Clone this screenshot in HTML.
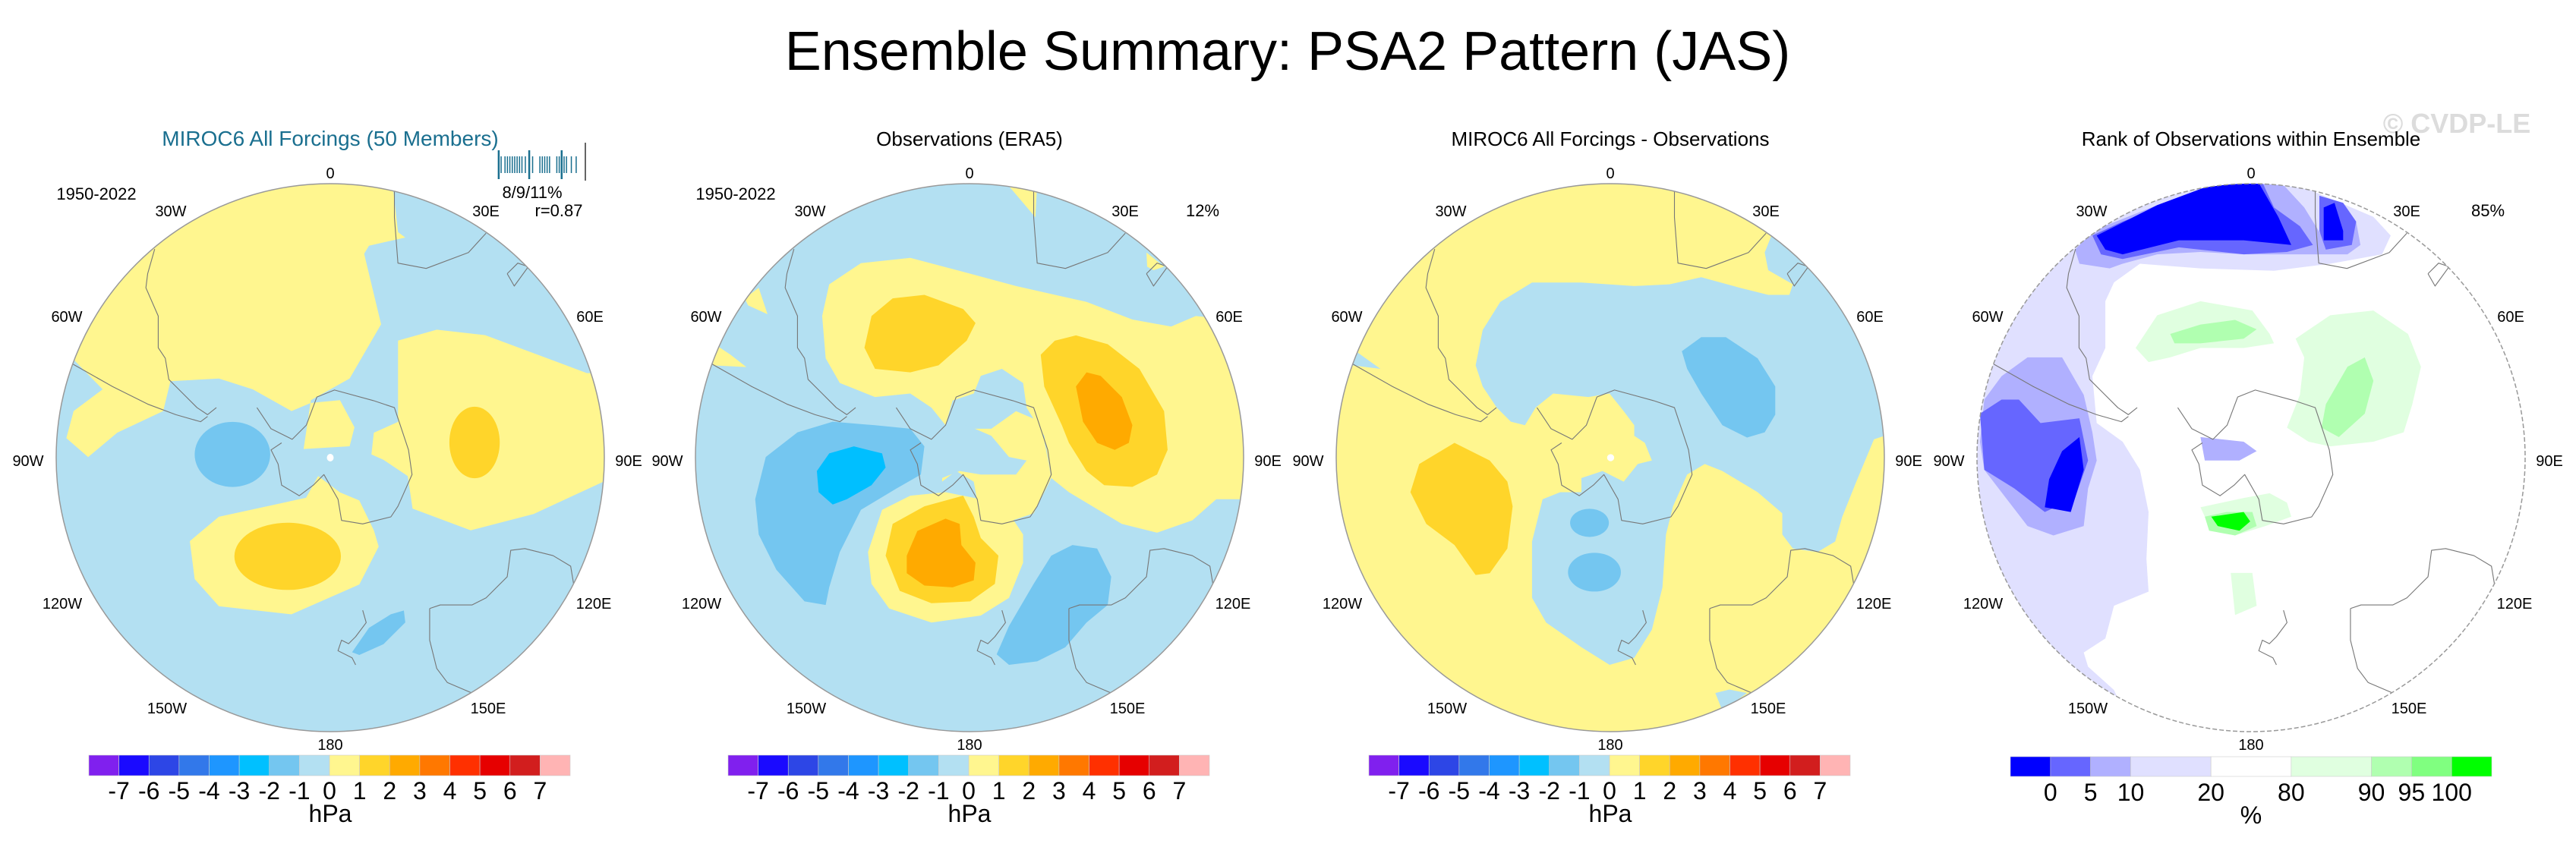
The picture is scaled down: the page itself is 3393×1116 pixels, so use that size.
<!DOCTYPE html>
<html><head><meta charset="utf-8">
<style>
html,body{margin:0;padding:0;background:#fff;}
svg{display:block;font-family:"Liberation Sans",Arial,sans-serif;}
</style></head>
<body>
<svg id="fig" width="3393" height="1116" viewBox="0 0 3393 1116" xmlns="http://www.w3.org/2000/svg">
<defs>
  <clipPath id="circ"><circle cx="0" cy="0" r="361"/></clipPath>
  <g id="coast" fill="none" stroke="#777" stroke-width="2.4" stroke-linejoin="round">
    <polyline points="370,190 350,260 345,300 380,380 380,470 400,500 410,560 450,600 490,640 520,660 545,640"/>
    <polyline points="135,515 250,580 350,630 430,660 500,680 520,665"/>
    <polyline points="1050,20 1050,100 1060,230 1140,245 1260,200 1310,145"/>
    <polyline points="1370,260 1400,230 1430,240 1390,295 1370,260"/>
    <polyline points="660,640 700,700 760,730 800,690 830,610 880,590 990,620 1050,640 1070,700 1090,760 1100,830 1060,920 1040,950 960,970 900,960 890,900 850,830 820,860 780,890 730,860 720,800 700,760 730,740"/>
    <polyline points="1150,1210 1180,1200 1270,1200 1310,1180 1370,1120 1380,1045 1420,1040 1500,1060 1550,1090 1560,1150"/>
    <polyline points="1150,1210 1150,1300 1170,1380 1200,1420 1270,1450"/>
    <polyline points="960,1215 970,1250 940,1290 920,1310 900,1300 890,1330 930,1350 940,1370"/>
  </g>
</defs>

<text x="1696" y="92" font-size="72" text-anchor="middle" fill="#000">Ensemble Summary: PSA2 Pattern (JAS)</text>
<text x="3236" y="175" font-size="36" font-weight="bold" text-anchor="middle" fill="#dcdcdc">© CVDP-LE</text>

<!-- Panel 1 -->
<g id="p1" transform="translate(435,603)">
  <g clip-path="url(#circ)">
    <circle r="361" fill="#b3e0f2"/>
    <g transform="scale(0.6378,0.7143) translate(-680,-846)">
      <path fill="#fff68f" d="M810,200 L810,352 L820,430 L835,440 L760,455 L750,470 L785,600 L720,700 L680,720 L640,740 L625,830 L720,825 L730,790 L700,740 L640,745 L600,760 L520,720 L450,700 L350,705 L335,760 L240,800 L180,845 L135,810 L150,760 L210,720 L150,665 L60,600 L60,200 Z"/>
      <path fill="#fff68f" d="M820,630 L900,610 L1000,620 L1150,670 L1210,690 L1300,690 L1300,880 L1245,890 L1100,950 L970,980 L850,940 L840,880 L790,850 L765,840 L770,800 L820,780 Z"/>
      <ellipse cx="978" cy="818" rx="52" ry="66" fill="#ffd52a"/>
      <path fill="#fff68f" d="M390,1000 L450,955 L630,920 L655,880 L700,910 L740,925 L770,980 L780,1010 L740,1080 L600,1135 L450,1120 L400,1070 Z"/>
      <ellipse cx="592" cy="1028" rx="110" ry="62" fill="#ffd52a"/>
      <ellipse cx="478" cy="840" rx="78" ry="60" fill="#74c6f0"/>
      <path fill="#74c6f0" d="M725,1205 L760,1160 L805,1135 L832,1128 L835,1150 L790,1190 L740,1210 Z"/>
      <circle cx="680" cy="846" r="7" fill="#fff"/>
    </g>
    <use href="#coast" transform="scale(0.4643) translate(-868,-782)"/>
  </g>
  <circle r="361" fill="none" stroke="#999" stroke-width="1.5"/>
</g>

<!-- Panel 2 -->
<g id="p2" transform="translate(1277,603)">
  <g clip-path="url(#circ)">
    <circle r="361" fill="#b3e0f2"/>
    <g transform="scale(0.4643) translate(-868,-782)">
      <path fill="#fff68f" d="M450,380 L470,290 L560,230 L700,215 L870,260 L1000,295 L1200,340 L1330,390 L1440,410 L1510,380 L1700,400 L1700,900 L1568,900 L1500,960 L1400,995 L1300,970 L1150,880 L1100,840 L1080,720 L1030,640 L1020,570 L960,530 L900,550 L880,600 L820,620 L800,690 L760,640 L700,600 L600,610 L500,570 L460,500 Z"/>
      <path fill="#fff68f" d="M930,700 L1000,650 L1070,680 L1100,840 L1050,940 L960,970 L900,960 L880,850 L830,820 L790,850 L800,700 Z"/>
      <path fill="#b3e0f2" d="M730,700 L860,690 L930,720 L980,780 L1030,790 L1000,830 L900,830 L840,820 L790,840 L740,820 Z"/>
      <path fill="#fff68f" d="M970,0 L1060,0 L1055,100 Z M1370,200 L1420,240 L1390,250 L1372,240 Z M230,330 L270,300 L295,375 L240,350 Z M145,460 L190,490 L235,525 L140,520 Z"/>
      <path fill="#fff68f" d="M580,1050 L620,930 L700,890 L800,880 L900,900 L980,940 L1020,1000 L1020,1080 L980,1180 L900,1230 L760,1250 L640,1210 L590,1140 Z"/>
      <path fill="#ffd52a" d="M630,1060 L650,970 L740,920 L850,890 L880,950 L900,1010 L950,1060 L940,1140 L870,1190 L760,1195 L670,1160 Z"/>
      <path fill="#ffaa00" d="M690,1060 L720,990 L800,955 L840,970 L845,1030 L885,1080 L880,1130 L820,1150 L740,1145 L690,1110 Z"/>
      <path fill="#ffd52a" d="M570,470 L590,380 L650,330 L740,320 L850,360 L885,400 L860,450 L780,520 L700,540 L600,530 Z"/>
      <path fill="#ffd52a" d="M1070,490 L1110,450 L1170,435 L1260,460 L1350,530 L1420,650 L1430,760 L1400,830 L1330,865 L1250,860 L1200,820 L1150,740 L1130,690 L1080,580 Z"/>
      <path fill="#ffaa00" d="M1170,580 L1200,540 L1240,550 L1300,610 L1330,690 L1320,740 L1280,760 L1230,740 L1190,680 Z"/>
      <path fill="#74c6f0" d="M260,900 L290,780 L380,710 L480,680 L600,690 L700,700 L740,750 L730,830 L660,870 L560,930 L500,1050 L470,1150 L460,1200 L400,1190 L320,1100 L270,1000 Z"/>
      <path fill="#00bfff" d="M435,820 L470,770 L540,750 L620,770 L630,810 L590,860 L520,900 L480,915 L440,880 Z"/>
      <path fill="#74c6f0" d="M945,1340 L980,1260 L1050,1140 L1100,1060 L1160,1030 L1230,1040 L1270,1120 L1260,1200 L1200,1250 L1140,1320 L1060,1360 L980,1370 Z"/>
    </g>
    <use href="#coast" transform="scale(0.4643) translate(-868,-782)"/>
  </g>
  <circle r="361" fill="none" stroke="#999" stroke-width="1.5"/>
</g>

<!-- Panel 3 -->
<g id="p3" transform="translate(2121,603)">
  <g clip-path="url(#circ)">
    <circle r="361" fill="#fff68f"/>
    <g transform="scale(0.4643) translate(-782,-782)">
      <path fill="#b3e0f2" d="M400,520 L420,420 L470,340 L560,285 L700,285 L850,295 L950,290 L1040,270 L1150,300 L1230,320 L1290,320 L1300,290 L1230,250 L1220,200 L1240,150 L1300,100 L1700,300 L1700,700 L1560,720 L1530,730 L1480,850 L1440,950 L1420,1020 L1370,1050 L1300,1040 L1270,1000 L1270,940 L1200,880 L1100,820 L1050,800 L1000,830 L960,920 L940,1000 L930,1150 L900,1270 L850,1350 L780,1370 L700,1320 L600,1250 L560,1180 L560,1020 L590,900 L640,880 L700,880 L700,840 L760,820 L820,850 L860,800 L900,790 L880,740 L850,720 L850,690 L820,650 L780,600 L720,610 L620,600 L570,640 L540,690 L500,680 L460,640 L420,580 Z"/>
      <path fill="#b3e0f2" d="M60,480 L130,530 L50,520 Z M1080,1450 L1120,1440 L1170,1450 L1100,1500 Z"/>
      <path fill="#ffd52a" d="M215,880 L240,800 L340,740 L440,790 L490,850 L505,920 L490,1040 L440,1110 L400,1115 L340,1030 L260,970 Z"/>
      <path fill="#74c6f0" d="M985,480 L1040,440 L1110,440 L1200,500 L1250,580 L1250,660 L1220,710 L1170,725 L1100,690 L1040,600 L1000,530 Z"/>
      <ellipse cx="723" cy="967" rx="55" ry="40" fill="#74c6f0"/>
      <ellipse cx="737" cy="1107" rx="75" ry="55" fill="#74c6f0"/>
      <circle cx="783" cy="782" r="10" fill="#fff"/>
    </g>
    <use href="#coast" transform="scale(0.4643) translate(-868,-782)"/>
  </g>
  <circle r="361" fill="none" stroke="#999" stroke-width="1.5"/>
</g>

<!-- Panel 4 -->
<g id="p4" transform="translate(2965,603)">
  <g clip-path="url(#circ)">
    <circle r="361" fill="#fff"/>
    <g transform="scale(0.5695,0.6173) translate(-817,-734)">
      <path fill="#e0e0ff" d="M100,300 L360,320 L420,280 L480,230 L600,180 L760,140 L870,140 L960,165 L1100,220 L1140,260 L1120,300 L1000,320 L870,335 L700,330 L560,320 L500,360 L480,400 L480,500 L450,560 L460,660 L520,700 L560,760 L580,850 L575,950 L580,1020 L500,1050 L480,1120 L430,1150 L440,1180 L500,1230 L515,1260 L515,1400 L100,1400 Z"/>
      <path fill="#b0b0ff" d="M410,290 L450,250 L600,195 L760,140 L880,140 L940,200 L980,260 L1060,230 L1070,280 L1040,300 L900,300 L800,300 L700,295 L600,300 L520,320 L490,330 L420,320 Z"/>
      <path fill="#b0b0ff" d="M200,610 L240,560 L300,520 L380,520 L430,600 L450,680 L460,740 L440,800 L430,880 L360,900 L300,880 L250,820 L200,760 L190,700 Z"/>
      <path fill="#b0b0ff" d="M700,690 L800,700 L830,720 L790,740 L710,740 Z"/>
      <path fill="#6666ff" d="M450,260 L520,230 L620,195 L760,140 L840,140 L870,200 L930,240 L960,280 L900,295 L800,300 L650,285 L520,310 L470,300 Z M975,175 L1030,190 L1060,230 L1050,280 L990,290 L975,250 Z"/>
      <path fill="#6666ff" d="M190,640 L240,610 L280,610 L330,660 L420,650 L440,740 L410,820 L340,850 L270,800 L200,760 Z"/>
      <path fill="#0000ff" d="M460,260 L600,195 L760,140 L830,140 L880,220 L910,280 L800,270 L650,270 L520,300 L480,290 Z M985,200 L1010,190 L1030,250 L1030,270 L985,270 Z M350,780 L380,720 L420,690 L430,760 L400,850 L340,840 Z"/>
      <path fill="#e0ffe0" d="M550,500 L600,430 L700,400 L820,420 L860,470 L870,490 L800,500 L700,500 L630,520 L580,530 Z M920,480 L1000,430 L1100,420 L1180,470 L1210,540 L1190,620 L1170,680 L1100,700 L1000,710 L950,700 L900,670 L930,600 L940,520 Z M700,840 L800,820 L860,810 L900,830 L910,860 L850,880 L780,900 L720,880 Z M770,980 L820,980 L830,1050 L780,1070 Z"/>
      <path fill="#b0ffb0" d="M630,470 L700,450 L780,440 L830,460 L800,480 L700,490 L640,490 Z M1040,540 L1080,520 L1100,570 L1080,640 L1020,690 L980,670 L990,620 Z M710,860 L760,850 L820,850 L830,880 L780,900 L720,890 Z"/>
      <path fill="#00ff00" d="M725,860 L800,850 L815,870 L790,890 L740,880 Z"/>
    </g>
    <use href="#coast" transform="scale(0.4643) translate(-868,-782)"/>
  </g>
  <circle r="361" fill="none" stroke="#999" stroke-width="1.5" stroke-dasharray="6 3"/>
</g>

<g id="labels"></g>
<g id="colorbars"></g>
</svg>

<script>
// ---- Colorbar data (hPa panels) ----
const hpaColors = ["#8020ee","#1a0aff","#2d46e6","#3278ea","#1e96ff","#00c0ff","#74c6f0","#b3e0f2","#fff68f","#ffd52a","#ffaa00","#ff7800","#ff3000","#e60000","#d21e1e","#ffb4b4"];
const hpaTicks = ["-7","-6","-5","-4","-3","-2","-1","0","1","2","3","4","5","6","7"];
// ---- Colorbar data (rank panel) ----
const rankColors = ["#0000ff","#6666ff","#b0b0ff","#e0e0ff","#ffffff","#e0ffe0","#b0ffb0","#80ff80","#00ff00"];
const rankWidths = [1,1,1,2,2,2,1,1,1];
const rankTicks = ["0","5","10","20","80","90","95","100"];
// ---- Panels ----
const panelCenters = [435,1277,2121,2965];
const panelTitles = ["MIROC6 All Forcings (50 Members)","Observations (ERA5)","MIROC6 All Forcings - Observations","Rank of Observations within Ensemble"];
const lonLabels = ["0","30E","60E","90E","120E","150E","180","150W","120W","90W","60W","30W"];
const memberTicks = [1030,1035,1043,1048,1053,1058,1063,1068,1073,1078,1085,1093,1100,1115,1120,1125,1130,1135,1150,1155,1160,1165,1170,1180,1190];
const tallTicks = [1030,1093,1160];

const NS="http://www.w3.org/2000/svg";
const L=document.getElementById('labels');
const CB=document.getElementById('colorbars');
function txt(parent,x,y,s,size,anchor,fill){
  const t=document.createElementNS(NS,'text');
  t.setAttribute('x',x);t.setAttribute('y',y);
  t.setAttribute('font-size',size);t.setAttribute('text-anchor',anchor||'middle');
  t.setAttribute('fill',fill||'#000');t.textContent=s;parent.appendChild(t);return t;
}
// lon label positions relative to center (layout)
const lonPos=[[0,235],[205,285],[342,424],[393,614],[347,802],[208,940],[0,988],[-215,940],[-353,802],[-398,614],[-347,424],[-210,285]];
panelCenters.forEach((cx,pi)=>{
  const tt=txt(L,cx,192,panelTitles[pi],pi===0?28:26,'middle',pi===0?'#1a6f8f':'#000');
  
  
  lonLabels.forEach((s,i)=>{
    const t=txt(L,cx+lonPos[i][0],lonPos[i][1],s,20);
    
    
  });
  if(pi<2){
    const y=txt(L,cx-308,263,"1950-2022",22);
    
    
  }
});
const p2=txt(L,1277+307,285,"12%",22);


const p4=txt(L,2965+312,285,"85%",22);


const s1=txt(L,435+266,261,"8/9/11%",22);


const s2=txt(L,435+301,285,"r=0.87",22);


// member tick widget
memberTicks.forEach(z=>{
  const x=z/1.568;
  const tall=tallTicks.indexOf(z)>=0;
  const ln=document.createElementNS(NS,'line');
  ln.setAttribute('x1',x);ln.setAttribute('x2',x);
  ln.setAttribute('y1',tall?198:206);ln.setAttribute('y2',tall?236:228);
  ln.setAttribute('stroke','#1a6f8f');ln.setAttribute('stroke-width',tall?2.5:1.5);
  
  
  L.appendChild(ln);
});
const ob=document.createElementNS(NS,'line');
ob.setAttribute('x1',771);ob.setAttribute('x2',771);ob.setAttribute('y1',188);ob.setAttribute('y2',238);
ob.setAttribute('stroke','#333');ob.setAttribute('stroke-width',1.5);


L.appendChild(ob);

// hPa colorbars
[0,1,2].forEach(pi=>{
  const cx=panelCenters[pi], x0=cx-318, w=634/hpaColors.length, y0=995, h=27;
  hpaColors.forEach((c,i)=>{
    const r=document.createElementNS(NS,'rect');
    r.setAttribute('x',x0+i*w);r.setAttribute('y',y0);r.setAttribute('width',w);r.setAttribute('height',h);
    r.setAttribute('fill',c);r.setAttribute('stroke','#ccc');r.setAttribute('stroke-width',0.6);
    
    
    CB.appendChild(r);
  });
  hpaTicks.forEach((s,i)=>{
    const t=txt(CB,x0+(i+1)*w,1053,s,32);
    
    
  });
  const u=txt(CB,cx,1083,"hPa",32);
  
  
});
// rank colorbar
(function(){
  const cx=panelCenters[3], x0=cx-317, total=rankWidths.reduce((a,b)=>a+b,0), unit=634/total, y0=997, h=26;
  let x=x0;
  rankColors.forEach((c,i)=>{
    const r=document.createElementNS(NS,'rect');
    r.setAttribute('x',x);r.setAttribute('y',y0);r.setAttribute('width',rankWidths[i]*unit);r.setAttribute('height',h);
    r.setAttribute('fill',c);r.setAttribute('stroke','#ccc');r.setAttribute('stroke-width',0.6);
    
    
    CB.appendChild(r);
    x+=rankWidths[i]*unit;
    if(i<rankTicks.length){
      const t=txt(CB,x,1055,rankTicks[i],32);
      
      
    }
  });
  const u=txt(CB,cx,1085,"%",32);
  
  
})();
</script>
</body></html>
